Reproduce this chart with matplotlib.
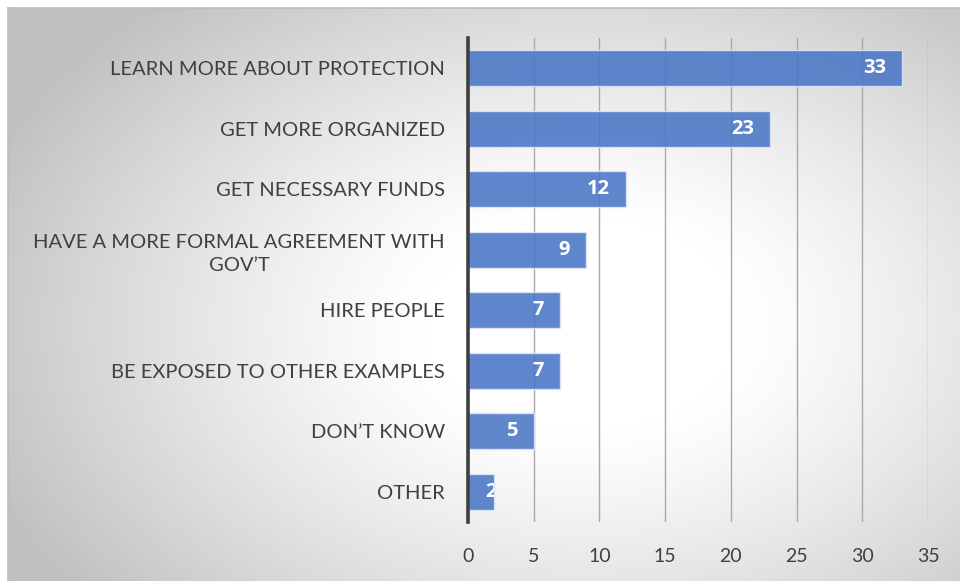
import numpy as np
import matplotlib
matplotlib.use("Agg")
import matplotlib.pyplot as plt

categories = [
    "LEARN MORE ABOUT PROTECTION",
    "GET MORE ORGANIZED",
    "GET NECESSARY FUNDS",
    "HAVE A MORE FORMAL AGREEMENT WITH\nGOV\u2019T",
    "HIRE PEOPLE",
    "BE EXPOSED TO OTHER EXAMPLES",
    "DON\u2019T KNOW",
    "OTHER",
]
values = [33, 23, 12, 9, 7, 7, 5, 2]
x_ticks = [0, 5, 10, 15, 20, 25, 30, 35]

W, H = 960, 581
fig = plt.figure(figsize=(W / 100, H / 100), dpi=100)
fig.patch.set_facecolor("white")

# radial grey-to-white backdrop of the chart area
bg = fig.add_axes([0, 0, 1, 1], zorder=0)
bg.set_xlim(0, W)
bg.set_ylim(H, 0)
bg.axis("off")
yy, xx = np.mgrid[0:H, 0:W]
cx, cy, rx, ry = 580, 320, 640, 430
r = np.sqrt(((xx - cx) / rx) ** 2 + ((yy - cy) / ry) ** 2)
shade = 1.0 - 0.24 * np.clip((r - 0.25) / 0.75, 0, 1) ** 1.2
img = np.dstack([shade, shade, shade])
bg.imshow(img, extent=(8, W, H, 8), aspect="auto", interpolation="bilinear")
bg.plot([8, 8], [8, H], color="#bdbdbd", lw=1.2)
bg.plot([8, W], [8, 8], color="#bdbdbd", lw=1.2)

ax = fig.add_axes([468 / W, 1 - 522 / H, 460 / W, 484 / H], zorder=1)
ax.patch.set_alpha(0)
ypos = np.arange(len(categories))
bars = ax.barh(ypos, values, height=0.6, color="#4a76c6", alpha=0.88,
               edgecolor="#dfe6f4", linewidth=1.0, zorder=2)
ax.set_xlim(0, 35)
ax.set_ylim(len(categories) - 0.5, -0.5)
ax.set_xticks(x_ticks)
ax.set_xticklabels([str(t) for t in x_ticks])
ax.set_yticks(ypos)
ax.set_yticklabels(categories, ha="right", multialignment="center",
                   linespacing=1.4)
ax.grid(axis="x", color="#a9a9a9", lw=1.0, zorder=1)
ax.grid(axis="y", visible=False)
for s in ["top", "right", "bottom"]:
    ax.spines[s].set_visible(False)
ax.spines["left"].set_color("#3f3f3f")
ax.spines["left"].set_linewidth(2.6)
ax.spines["left"].set_zorder(3)
ax.tick_params(axis="both", length=0, labelcolor="#404040")
ax.tick_params(axis="x", pad=19, labelsize=14)
ax.tick_params(axis="y", pad=16.5, labelsize=14.5)
for lab in ax.get_xticklabels() + ax.get_yticklabels():
    lab.set_fontfamily(["Lato", "DejaVu Sans"])

for bar, v in zip(bars, values):
    t = ax.annotate(str(v), xy=(v, bar.get_y() + bar.get_height() / 2),
                    xytext=(-11.5, 0), textcoords="offset points",
                    ha="right", va="center", color="white", fontsize=14.5,
                    fontweight="bold", family=["Open Sans", "DejaVu Sans"],
                    zorder=4)
    if v < 3:
        t.set_ha("left")
        t.set_position((-6.5, 0))
        t.set_clip_path(bar)

fig.savefig("out.png", dpi=100)
